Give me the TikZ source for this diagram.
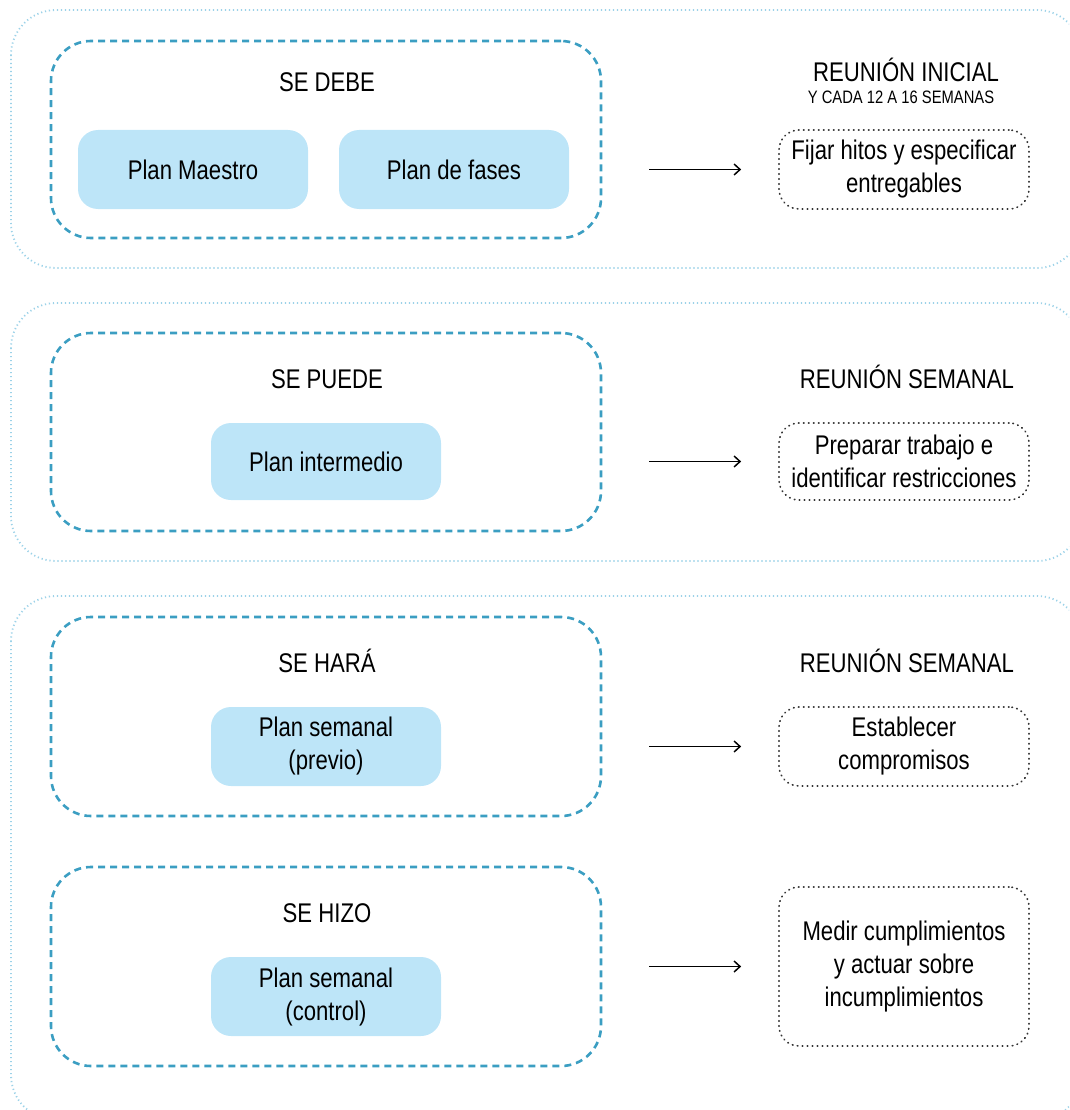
\documentclass[tikz,border=0pt]{standalone}
\usepackage{fontspec}
\setmainfont{Liberation Sans}[FakeStretch=0.82]
\usetikzlibrary{arrows.meta}

\definecolor{panelline}{HTML}{9CD2E8}
\definecolor{groupline}{HTML}{3B9EC2}
\definecolor{planfill}{HTML}{BDE5F8}
\definecolor{noteline}{HTML}{333333}

\begin{document}
\begin{tikzpicture}[x=1pt,y=-1pt,
  every node/.style={font=\fontsize{27}{33}\selectfont},
  panel/.style={draw=panelline, line width=1.8pt, dash pattern=on 1.2pt off 2.8pt, rounded corners=45pt},
  group/.style={draw=groupline, line width=2.6pt, dash pattern=on 7pt off 5pt, rounded corners=40pt,
    minimum width=550pt, inner sep=0pt},
  plan/.style={fill=planfill, rounded corners=20pt, minimum width=230pt, minimum height=79pt,
    align=center, inner sep=0pt},
  note/.style={draw=noteline, line width=1.7pt, dash pattern=on 0.6pt off 4.4pt, line cap=round,
    rounded corners=20pt, minimum width=250pt, align=center, inner sep=0pt},
  heading/.style={anchor=base, inner sep=0pt},
  subheading/.style={anchor=base, inner sep=0pt, font=\fontsize{18}{22}\selectfont},
  flow/.style={-{Straight Barb[length=6pt,width=11pt]}, line width=1.5pt}
]
\useasboundingbox (0,0) rectangle (1069,1110);

% outer panels, running off the right and bottom edges
\begin{scope}
  \clip (0,0) rectangle (1069,1110);
  \draw[panel] (11,10) rectangle (1082,268);
  \draw[panel] (11,303) rectangle (1082,561);
  \draw[panel] (11,596) rectangle (1082,1120);
\end{scope}

% planning levels
\node[group, minimum height=197pt] (gA) at (326,139.5) {};
\node[group, minimum height=198pt] (gB) at (326,432) {};
\node[group, minimum height=199pt] (gC) at (326,716.5) {};
\node[group, minimum height=199pt] (gD) at (326,966.5) {};

\node[heading] (tA) at (327,92) {SE DEBE};
\node[heading] (tB) at (327,388) {SE PUEDE};
\node[heading] (tC) at (327,672) {SE HARÁ};
\node[heading] (tD) at (327,922) {SE HIZO};

\node[plan] (pm) at (193,169.5) {Plan Maestro};
\node[plan] (pf) at (454,169.5) {Plan de fases};
\node[plan, minimum height=77pt] (pi) at (326,461.5) {Plan intermedio};
\node[plan] (pp) at (326,746.5) {Plan semanal\\(previo)};
\node[plan] (pc) at (326,996.5) {Plan semanal\\(control)};

% meetings
\node[heading] (mA) at (906,82) {REUNIÓN INICIAL};
\node[subheading] (mA2) at (901,104) {Y CADA 12 A 16 SEMANAS};
\node[heading] (mB) at (907,388) {REUNIÓN SEMANAL};
\node[heading] (mC) at (907,672) {REUNIÓN SEMANAL};

\node[note, minimum height=79pt] (n1) at (904,169.5) {Fijar hitos y especificar\\entregables};
\node[note, minimum height=77pt] (n2) at (904,461.5) {Preparar trabajo e\\identificar restricciones};
\node[note, minimum height=79pt] (n3) at (904,746.5) {Establecer\\compromisos};
\node[note, minimum height=159pt] (n4) at (904,966.5) {Medir cumplimientos\\y actuar sobre\\incumplimientos};

% links from each level to its meeting
\draw[flow] ([xshift=47pt]gA.east |- n1.west) -- ([xshift=-37pt]n1.west);
\draw[flow] ([xshift=47pt]gB.east |- n2.west) -- ([xshift=-37pt]n2.west);
\draw[flow] ([xshift=47pt]gC.east |- n3.west) -- ([xshift=-37pt]n3.west);
\draw[flow] ([xshift=47pt]gD.east |- n4.west) -- ([xshift=-37pt]n4.west);
\end{tikzpicture}
\end{document}
